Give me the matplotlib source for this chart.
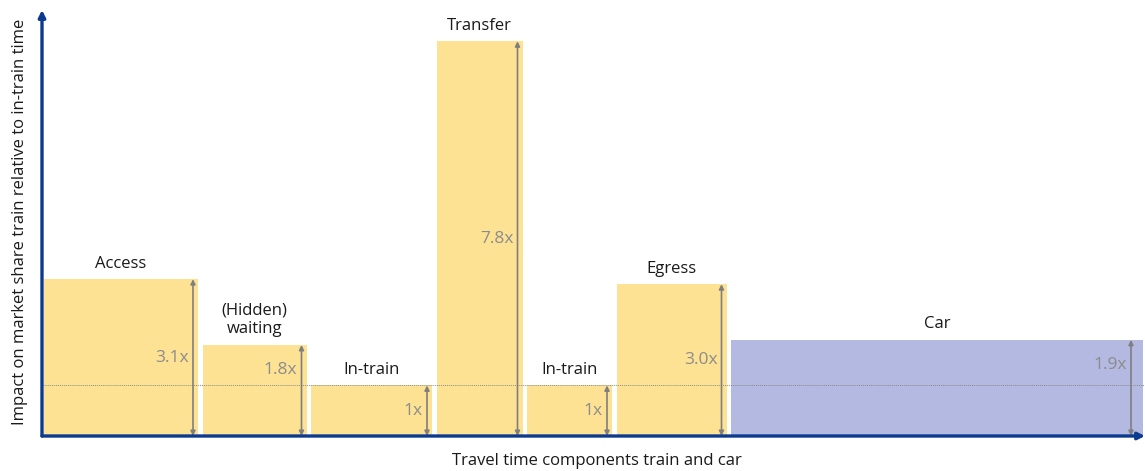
import matplotlib
matplotlib.use("Agg")
import matplotlib.pyplot as plt

# ---- data ----
categories = ["Access", "(Hidden)\nwaiting", "In-train", "Transfer", "In-train", "Egress", "Car"]
values = [3.1, 1.8, 1.0, 7.8, 1.0, 3.0, 1.9]
value_labels = ["3.1x", "1.8x", "1x", "7.8x", "1x", "3.0x", "1.9x"]
widths = [154, 104, 121, 86, 85, 110, 412]
modes = ["train", "train", "train", "train", "train", "train", "car"]

colors = {"train": "#FDE294", "car": "#B3B9E0"}
axis_color = "#0B3A8E"
arrow_color = "#7F7F7F"

plt.rcParams['font.family'] = ['Open Sans', 'DejaVu Sans']

W, H = 1145, 471
fig = plt.figure(figsize=(W / 100, H / 100), dpi=100)
x0, x1 = 42, 1145
y0, y1 = 436, 10
unit = 50.6
ax = fig.add_axes([x0 / W, 1 - y0 / H, (x1 - x0) / W, (y0 - y1) / H])
ax.set_xlim(0, x1 - x0)
ax.set_ylim(0, (y0 - y1) / unit)
ax.axis("off")

gap = 4.5
pos = 2.0
for cat, v, lab, w, m in zip(categories, values, value_labels, widths, modes):
    ax.bar(pos, v, width=w, align="edge", color=colors[m], edgecolor="none", zorder=1)
    cx = pos + w / 2
    ax.text(cx, v + 0.15, cat, ha="center", va="bottom", fontsize=12,
            color="#1A1A1A", linespacing=1.2, zorder=4)
    off = 12 if m == "car" else 5
    ax_x = pos + w - off
    ax.annotate("", xy=(ax_x, v), xytext=(ax_x, 0),
                arrowprops=dict(arrowstyle="<|-|>", color=arrow_color, lw=1.2,
                                mutation_scale=7, shrinkA=0, shrinkB=0), zorder=3)
    ly = v - 0.5 if 1 < v < 2.5 else v / 2
    ax.text(ax_x - 4, ly, lab, ha="right", va="center", fontsize=12.5,
            color="#8C8C8C", zorder=4)
    pos += w + gap

# reference line at 1x
ax.axhline(1.0, color="#8C8C8C", lw=0.7, ls=(0, (1, 1)), zorder=2)

# axes with arrows
ax.annotate("", xy=(0, 1.0), xytext=(0, 0), xycoords="axes fraction",
            arrowprops=dict(arrowstyle="-|>", color=axis_color, lw=2.4,
                            mutation_scale=10, shrinkA=0, shrinkB=0),
            annotation_clip=False, zorder=5)
ax.annotate("", xy=(1.0, 0), xytext=(0, 0), xycoords="axes fraction",
            arrowprops=dict(arrowstyle="-|>", color=axis_color, lw=2.4,
                            mutation_scale=10, shrinkA=0, shrinkB=0),
            annotation_clip=False, zorder=5)

fig.text(597 / W, 1 - 461 / H, "Travel time components train and car",
         ha="center", va="center", fontsize=12, color="#1A1A1A")
fig.text(20 / W, 1 - 222 / H, "Impact on market share train relative to in-train time",
         ha="center", va="center", rotation=90, fontsize=12, color="#1A1A1A")

fig.savefig("out.png", dpi=100)
